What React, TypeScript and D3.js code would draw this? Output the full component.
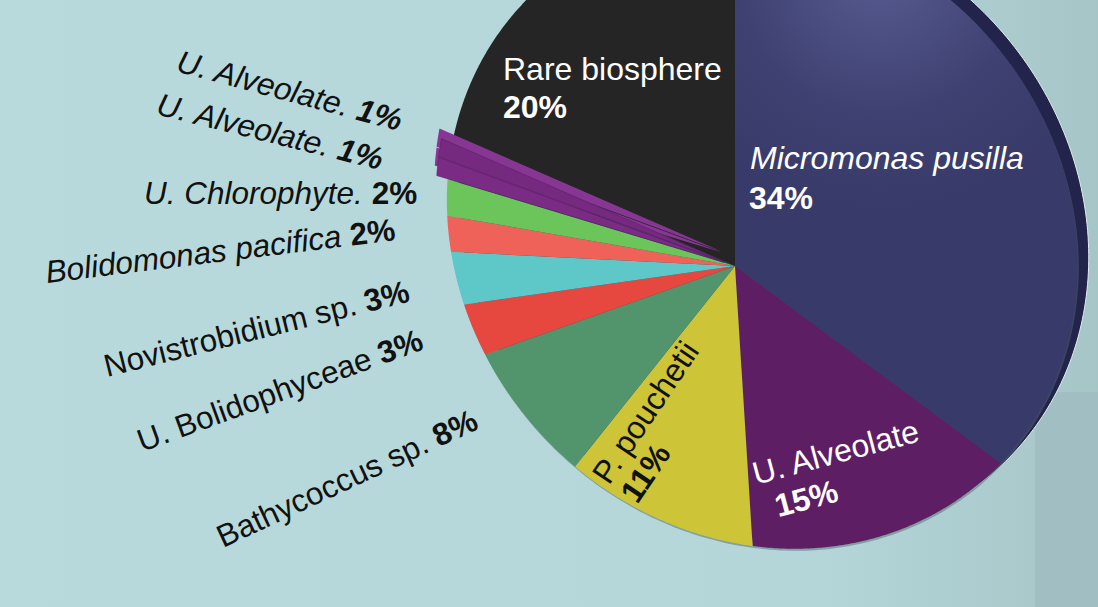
import React from "react";
import * as d3 from "d3";

// slices, clockwise from 12 o'clock
const names = [
  "Micromonas pusilla",
  "U. Alveolate",
  "P. pouchetii",
  "Bathycoccus sp.",
  "U. Bolidophyceae",
  "Novistrobidium sp.",
  "Bolidomonas pacifica",
  "U. Chlorophyte.",
  "U. Alveolate.",
  "U. Alveolate.",
  "Rare biosphere",
];
const values = [34, 15, 11, 8, 3, 3, 2, 2, 1, 1, 20];

const colors = [
  "#383a69", "#5e1e64", "#cdc437", "#52946b", "#e6473f",
  "#5ec8c9", "#ee6259", "#6bc55a", "#7a2c84", "#752a80", "#252525",
];

// label layout (text position, rotation, styling) — one per slice
const labelLayout = [
  {x: 750, y: 169, rot: 0, fill: "#fff", italic: true, twoLine: true, dx2: -1, dy2: 40},
  {x: 756, y: 485, rot: -15, fill: "#fff", italic: false, twoLine: true, dx2: 13, dy2: 37},
  {x: 609, y: 486, rot: -56, fill: "#111", italic: false, twoLine: true, dx2: 0, dy2: 34},
  {x: 223, y: 548, rot: -25, fill: "#111", italic: false, twoLine: false},
  {x: 142, y: 452, rot: -20, fill: "#111", italic: false, twoLine: false},
  {x: 107, y: 377, rot: -14, fill: "#111", italic: false, twoLine: false},
  {x: 47, y: 283, rot: -7, fill: "#111", italic: true, twoLine: false},
  {x: 144, y: 204, rot: 0, fill: "#111", italic: true, twoLine: false},
  {x: 155, y: 114, rot: 14, fill: "#111", italic: true, twoLine: false, pctItalic: true},
  {x: 175, y: 71, rot: 15, fill: "#111", italic: true, twoLine: false, pctItalic: true},
  {x: 503, y: 80, rot: 0, fill: "#fff", italic: false, twoLine: true, dx2: 0, dy2: 38},
];

const W = 1098;
const H = 607;

// perspective of the tilted 3D pie: unit disc -> screen (homography)
const persp = {cx: 735, cy: 266, a11: 311, a21: 35, a22: 309, g1: -0.086, g2: 0.115};

function project(angle: number, r: number): [number, number] {
  const u = r * Math.sin(angle);
  const v = -r * Math.cos(angle);
  const d = 1 + persp.g1 * u + persp.g2 * v;
  return [persp.cx + (persp.a11 * u) / d, persp.cy + (persp.a21 * u + persp.a22 * v) / d];
}

const arcs = d3.pie<number>().sort(null).value(d => d).startAngle(0).endAngle(2 * Math.PI)(values);
const line = d3.line();

function slicePath(a0: number, a1: number, dx = 0, dy = 0) {
  const n = Math.max(2, Math.ceil((a1 - a0) / 0.008));
  const pts: [number, number][] = [project(0, 0)];
  d3.range(n + 1).forEach(i => pts.push(project(a0 + ((a1 - a0) * i) / n, 1)));
  return line(pts.map(p => [p[0] + dx, p[1] + dy] as [number, number])) + "Z";
}

function outlinePath(dx = 0, dy = 0) {
  const pts = d3.range(0, 361).map(i => project((i / 360) * 2 * Math.PI, 1));
  return line(pts.map(p => [p[0] + dx, p[1] + dy] as [number, number])) + "Z";
}

const font = "'Liberation Sans', Arial, Helvetica, sans-serif";
const exploded = (v: number) => v <= 1;

export default function App() {
  return (
    <svg
      width={W}
      height={H}
      style={{position: "fixed", left: 0, top: 0, display: "block"}}
      fontFamily={font}
    >
      <defs>
        <linearGradient id="bg" x1="0" y1="0" x2="1" y2="0">
          <stop offset="0" stopColor="#b9dadd" />
          <stop offset="0.75" stopColor="#b4d6d9" />
          <stop offset="1" stopColor="#a6c5c7" />
        </linearGradient>
        <radialGradient id="sheen" gradientUnits="userSpaceOnUse" cx={880} cy={-30} r={240}>
          <stop offset="0" stopColor="#585b90" />
          <stop offset="0.6" stopColor="#3f4172" />
          <stop offset="1" stopColor="#383a69" />
        </radialGradient>
      </defs>

      <rect width={W} height={H} fill="url(#bg)" />
      <rect x={1035} y={392} width={W - 1035} height={H - 392} fill="#a1bfc2" />

      {/* disc thickness and shadow */}
      <path d={outlinePath(11, -8)} fill="#23244b" stroke="#e3eced" strokeWidth={1} />
      <path d={outlinePath(1, 2)} fill="#4f6c70" opacity={0.5} />

      {arcs.map((a, i) =>
        exploded(a.value) ? null : (
          <path
            key={i}
            d={slicePath(a.startAngle, a.endAngle)}
            fill={i === 0 ? "url(#sheen)" : colors[i]}
          />
        )
      )}

      {arcs.map((a, i) => {
        if (!exploded(a.value)) return null;
        const mid = (a.startAngle + a.endAngle) / 2;
        const p0 = project(mid, 1);
        const p1 = project(mid, 1.04);
        const dx = p1[0] - p0[0];
        const dy = p1[1] - p0[1];
        return (
          <g key={i}>
            <path d={slicePath(a.startAngle, a.endAngle, dx - 2, dy - 10)} fill="#883694" />
            <path
              d={slicePath(a.startAngle, a.endAngle, dx, dy)}
              fill={colors[i]}
              stroke="#5c1f66"
              strokeWidth={0.6}
            />
          </g>
        );
      })}

      {arcs.map((a, i) => {
        const L = labelLayout[i];
        const pct = `${a.value}%`;
        if (L.twoLine) {
          return (
            <g key={i} transform={`translate(${L.x},${L.y}) rotate(${L.rot})`} fill={L.fill} fontSize={32}>
              <text fontStyle={L.italic ? "italic" : "normal"}>{names[i]}</text>
              <text x={L.dx2} y={L.dy2} fontWeight="bold">{pct}</text>
            </g>
          );
        }
        return (
          <text
            key={i}
            transform={`translate(${L.x},${L.y}) rotate(${L.rot})`}
            fill={L.fill}
            fontSize={31.5}
          >
            <tspan fontStyle={L.italic ? "italic" : "normal"}>{names[i]} </tspan>
            <tspan fontWeight="bold" fontStyle={L.pctItalic ? "italic" : "normal"}>{pct}</tspan>
          </text>
        );
      })}
    </svg>
  );
}
